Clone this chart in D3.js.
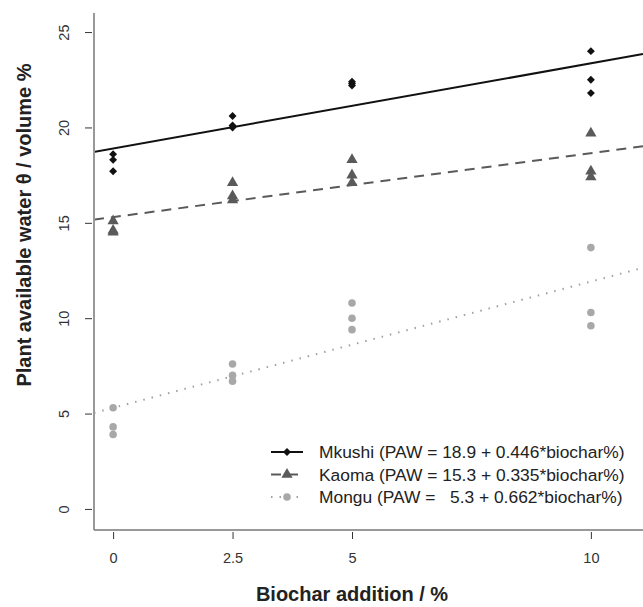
<!DOCTYPE html>
<html><head><meta charset="utf-8">
<script src="https://cdn.jsdelivr.net/npm/d3@7"></script>
<style>body{margin:0;background:#fff}svg{display:block}</style>
</head><body>
<svg id="c" width="643" height="607"></svg>
<script>
const xLevels = [0, 2.5, 5, 10];
const xTicks = [0, 2.5, 5, 10];
const xTickLabels = ["0", "2.5", "5", "10"];
const yTicks = [0, 5, 10, 15, 20, 25];
const seriesNames = ["Mkushi", "Kaoma", "Mongu"];
const mkushi = [[18.6, 18.3, 17.7], [20.6, 20.1, 20.0], [22.4, 22.3, 22.2], [24.0, 22.5, 21.8]];
const kaoma  = [[15.1, 14.6, 14.5], [17.1, 16.4, 16.2], [18.3, 17.5, 17.1], [19.7, 17.7, 17.4]];
const mongu  = [[5.3, 4.3, 3.9], [7.6, 7.0, 6.7], [10.8, 10.0, 9.4], [13.7, 10.3, 9.6]];
const intercepts = [18.9, 15.3, 5.3];
const slopes = [0.446, 0.335, 0.662];
const legendLabels = ["Mkushi (PAW = 18.9 + 0.446*biochar%)", "Kaoma (PAW = 15.3 + 0.335*biochar%)", "Mongu (PAW =   5.3 + 0.662*biochar%)"];

const svg = d3.select("#c");
const font = "'Liberation Sans', Arial, sans-serif";
const x = d3.scaleLinear().domain([-0.4, 10.4]).range([94, 610]);
const y = d3.scaleLinear().domain([-1, 26]).range([528, 13]);
const xMax = x.invert(643);

const styles = [
  {col: "#111", lc: "#111", dash: null, w: 2, sym: d3.symbolDiamond2, size: 40},
  {col: "#5a5a5a", lc: "#5a5a5a", dash: "10,7", w: 2, sym: d3.symbolTriangle, size: 55},
  {col: "#a8a8a8", lc: "#a0a0a0", dash: "1.5,7", w: 2, sym: d3.symbolCircle, size: 45}
];
const data = [mkushi, kaoma, mongu];

// axes
const gx = svg.append("g").attr("transform", "translate(0,530)")
  .call(d3.axisBottom(x).tickValues(xTicks).tickFormat((d,i)=>xTickLabels[i]).tickSize(9).tickPadding(14).tickSizeOuter(0));
gx.select(".domain").attr("d", "M94,0H643").attr("stroke", "#777").attr("stroke-width", 1.5);
gx.selectAll(".tick line").attr("stroke", "#333").attr("y1", 2);
gx.selectAll("text").attr("font-family", font).attr("font-size", 14.5).attr("fill", "#333");

const gy = svg.append("g").attr("transform", "translate(94,0)")
  .call(d3.axisLeft(y).tickValues(yTicks).tickSize(9).tickPadding(14).tickSizeOuter(0));
gy.select(".domain").attr("d", "M0,13V530").attr("stroke", "#777").attr("stroke-width", 1.5);
gy.selectAll(".tick line").attr("stroke", "#333").attr("x1", -2);
gy.selectAll("text").attr("font-family", font).attr("font-size", 14.5).attr("fill", "#333")
  .attr("text-anchor", "middle").attr("x", 0).attr("y", 0).attr("dy", "0.35em")
  .attr("transform", "translate(-30,0) rotate(-90)");

// regression lines
svg.append("defs").append("clipPath").attr("id", "pc")
  .append("rect").attr("x", 95).attr("y", 0).attr("width", 560).attr("height", 529);
intercepts.forEach((a, i) => {
  const s = styles[i];
  svg.append("line").attr("clip-path", "url(#pc)")
    .attr("x1", x(-0.4)).attr("y1", y(a + slopes[i] * -0.4))
    .attr("x2", x(xMax)).attr("y2", y(a + slopes[i] * xMax))
    .attr("stroke", s.lc).attr("stroke-width", s.w)
    .attr("stroke-dasharray", s.dash);
});

// points
data.forEach((ser, i) => {
  const s = styles[i];
  const pts = [];
  ser.forEach((vals, j) => vals.forEach(v => pts.push([xLevels[j], v])));
  svg.append("g").selectAll("path").data(pts).join("path")
    .attr("d", d3.symbol().type(s.sym).size(s.size))
    .attr("transform", d => `translate(${x(d[0])},${y(d[1])})`)
    .attr("fill", s.col);
});

// legend
const lg = svg.append("g");
legendLabels.forEach((t, i) => {
  const s = styles[i];
  const yy = 452 + i * 22.5;
  lg.append("line").attr("x1", 271).attr("x2", 303).attr("y1", yy).attr("y2", yy)
    .attr("stroke", s.lc).attr("stroke-width", s.w).attr("stroke-dasharray", s.dash);
  lg.append("path").attr("d", d3.symbol().type(s.sym).size(s.size)())
    .attr("transform", `translate(287,${yy})`).attr("fill", s.col);
  lg.append("text").attr("x", 319).attr("y", yy + 6).text(t)
    .attr("font-family", font).attr("font-size", 17.4).attr("fill", "#222")
    .attr("xml:space", "preserve").style("white-space", "pre");
});

// titles
svg.append("text").attr("x", 352).attr("y", 601).attr("text-anchor", "middle")
  .attr("font-family", font).attr("font-weight", "bold").attr("font-size", 20).attr("fill", "#222")
  .text("Biochar addition / %");
svg.append("text").attr("transform", `translate(31,225) rotate(-90)`).attr("text-anchor", "middle")
  .attr("font-family", font).attr("font-weight", "bold").attr("font-size", 20).attr("fill", "#222")
  .text("Plant available water θ / volume %");
</script>
</body></html>
